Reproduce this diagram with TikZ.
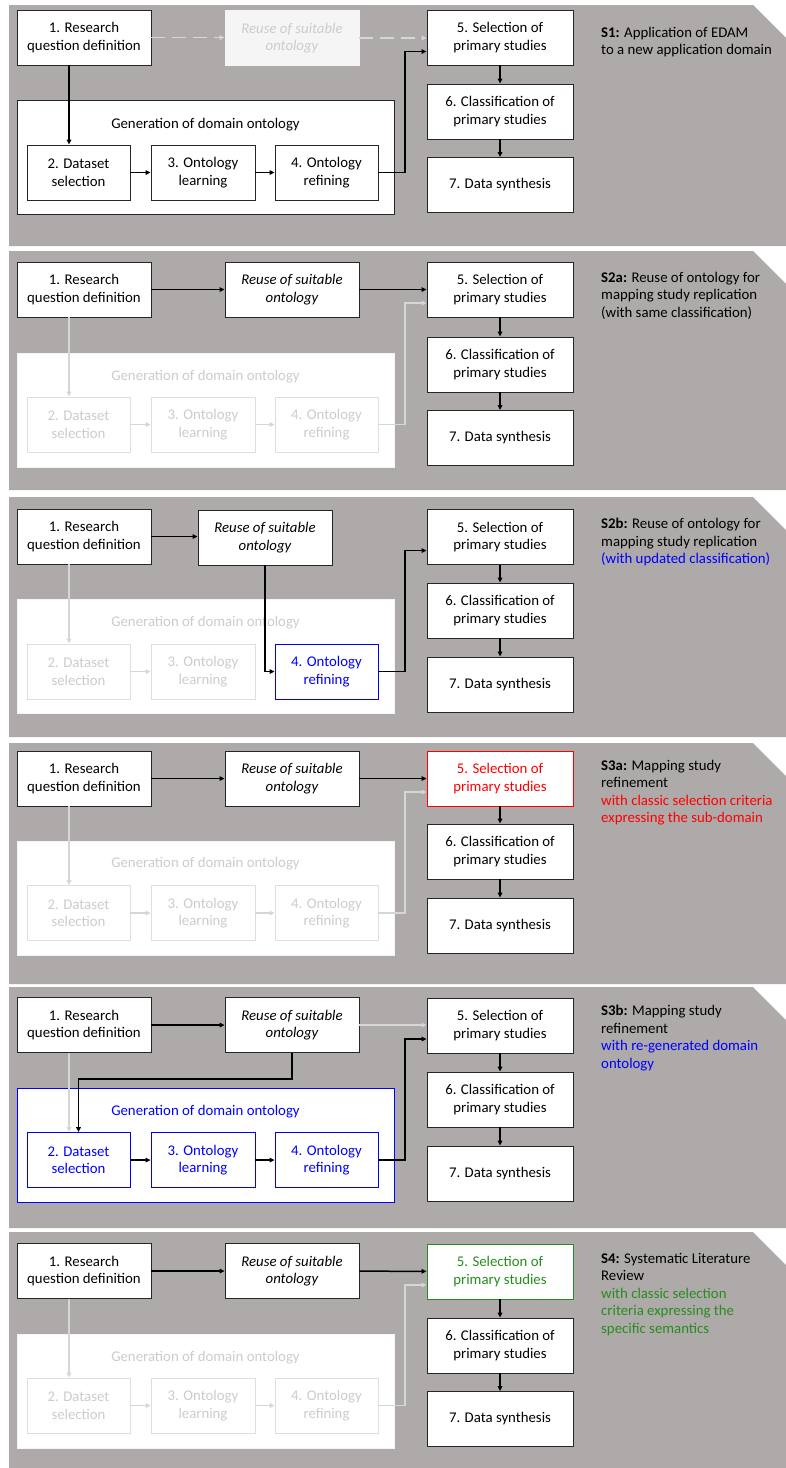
\documentclass[tikz,border=0pt]{standalone}
\usepackage{fontspec}
\setmainfont{Carlito}
\usetikzlibrary{arrows.meta}
\definecolor{panelgray}{RGB}{174,170,169}
\definecolor{fadeline}{RGB}{214,214,214}
\definecolor{fadetext}{RGB}{204,204,204}
\definecolor{fadeborder}{RGB}{222,222,222}
\definecolor{fadefill}{RGB}{245,245,245}
\definecolor{myblue}{RGB}{0,0,255}
\definecolor{myred}{RGB}{255,0,0}
\definecolor{mygreen}{RGB}{40,140,30}
\newcommand\fs{\fontsize{14.8}{17.5}\selectfont}
\newcommand\panelbg[2]{\fill[panelgray] (9,#1) -- (753,#1) -- (786,#1+33) -- (786,#2) -- (9,#2) -- cycle;}
\begin{document}
\begin{tikzpicture}[x=1pt,y=-1pt,
  bx/.style={draw=black!85, line width=0.8pt, fill=white, align=center, inner sep=0pt, minimum height=55pt, font=\fs},
  ital/.style={font=\fs\itshape},
  wA/.style={minimum width=134pt},
  wB/.style={minimum width=103pt},
  wC/.style={minimum width=104pt},
  wD/.style={minimum width=146pt},
  fade/.style={draw=fadeborder, text=fadetext},
  fadeR/.style={draw=fadefill, fill=fadefill, text=fadetext},
  blu/.style={draw=myblue, text=myblue},
  rd/.style={draw=myred, text=myred},
  grn/.style={draw=mygreen, text=mygreen},
  gen/.style={draw=black!85, line width=0.8pt, fill=white, minimum width=377pt, minimum height=114pt, inner sep=0pt},
  genf/.style={gen, draw=fadefill},
  genb/.style={gen, draw=myblue},
  glab/.style={font=\fs, inner sep=0pt},
  desc/.style={anchor=north west, align=left, inner sep=0pt, font=\fs},
  arr/.style={-{Triangle[length=5pt,width=4.5pt]}, line width=1.5pt, black},
  farr/.style={-{Triangle[length=5pt,width=4.5pt]}, line width=1.3pt, fadeline},
  dsh/.style={dash pattern=on 14pt off 7pt}
]
\useasboundingbox (0,0) rectangle (786,1468);
\fill[white] (0,0) rectangle (786,1468);

% ================= Panel 1 =================
\panelbg{5}{246}
\node[gen] (g1) at (205.5,157) {};
\node[glab] (g1l) at (205.5,125) {Generation of domain ontology};
\node[bx,wA] (a1) at (84,37.5) {1. Research\\question definition};
\node[bx,wA,ital,fadeR] (r1) at (292,38) {Reuse of suitable\\ontology};
\node[bx,wB] (b1) at (78.5,172.5) {2. Dataset\\selection};
\node[bx,wC] (c1) at (203,172.5) {3. Ontology\\learning};
\node[bx,wB] (d1) at (326.5,172.5) {4. Ontology\\refining};
\node[bx,wD] (e1) at (500,37.5) {5. Selection of\\primary studies};
\node[bx,wD] (f1) at (500,111.5) {6. Classification of\\primary studies};
\node[bx,wD] (h1) at (500,185) {7. Data synthesis};
\node[desc] (t1) at (601,27) {\textbf{S1:} Application of EDAM\\to a new application domain};
\coordinate (k1) at (405,51.5);
\coordinate (v1) at (69,0);
\draw[farr,dsh] (a1.east) -- (a1.east -| r1.west);
\draw[farr,dsh] (r1.east) -- (r1.east -| e1.west);
\draw[arr] (a1.south -| v1) -- (b1.north -| v1);
\draw[arr] (b1) -- (c1);
\draw[arr] (c1) -- (d1);
\draw[arr] (d1.east) -| (k1) -- (k1 -| e1.west);
\draw[arr] (e1) -- (f1);
\draw[arr] (f1) -- (h1);

% ================= Panel 2 =================
\panelbg{251}{490}
\node[genf] (g2) at (205.5,410) {};
\node[glab,text=fadetext] (g2l) at (205.5,377) {Generation of domain ontology};
\node[bx,wA] (a2) at (84,289.5) {1. Research\\question definition};
\node[bx,wA,ital] (r2) at (292,289.5) {Reuse of suitable\\ontology};
\node[bx,wB,fade] (b2) at (78.5,424.5) {2. Dataset\\selection};
\node[bx,wC,fade] (c2) at (203,424.5) {3. Ontology\\learning};
\node[bx,wB,fade] (d2) at (326.5,424.5) {4. Ontology\\refining};
\node[bx,wD] (e2) at (500,289.5) {5. Selection of\\primary studies};
\node[bx,wD] (f2) at (500,364.5) {6. Classification of\\primary studies};
\node[bx,wD] (h2) at (500,438) {7. Data synthesis};
\node[desc] (t2) at (601,272) {\textbf{S2a:} Reuse of ontology for\\mapping study replication\\(with same classification)};
\coordinate (k2) at (405,303);
\coordinate (v2) at (69,0);
\draw[farr] (a2.south -| v2) -- (b2.north -| v2);
\draw[farr] (b2) -- (c2);
\draw[farr] (c2) -- (d2);
\draw[farr] (d2.east) -| (k2) -- (k2 -| e2.west);
\draw[arr] (a2) -- (r2);
\draw[arr] (r2) -- (e2);
\draw[arr] (e2) -- (f2);
\draw[arr] (f2) -- (h2);

% ================= Panel 3 =================
\panelbg{497}{737}
\node[genf] (g3) at (205.5,656.5) {};
\node[glab,text=fadetext] (g3l) at (205.5,623) {Generation of domain ontology};
\node[bx,wA] (a3) at (84,536.5) {1. Research\\question definition};
\node[bx,wA,ital] (r3) at (265,537.5) {Reuse of suitable\\ontology};
\node[bx,wB,fade] (b3) at (78.5,671.5) {2. Dataset\\selection};
\node[bx,wC,fade] (c3) at (203,671.5) {3. Ontology\\learning};
\node[bx,wB,blu] (d3) at (326.5,671.5) {4. Ontology\\refining};
\node[bx,wD] (e3) at (500,537) {5. Selection of\\primary studies};
\node[bx,wD] (f3) at (500,610.5) {6. Classification of\\primary studies};
\node[bx,wD] (h3) at (500,684.5) {7. Data synthesis};
\node[desc] (t3) at (601,518) {\textbf{S2b:} Reuse of ontology for\\mapping study replication\\\textcolor{myblue}{(with updated classification)}};
\coordinate (k3) at (405,550.5);
\coordinate (v3) at (69,0);
\draw[farr] (a3.south -| v3) -- (b3.north -| v3);
\draw[farr] (b3) -- (c3);
\draw[arr] (a3.east) -- (a3.east -| r3.west);
\draw[arr] (r3.south) |- (d3.west);
\draw[arr] (d3.east) -| (k3) -- (k3 -| e3.west);
\draw[arr] (e3) -- (f3);
\draw[arr] (f3) -- (h3);

% ================= Panel 4 =================
\panelbg{743}{984}
\node[genf] (g4) at (205.5,898) {};
\node[glab,text=fadetext] (g4l) at (205.5,864) {Generation of domain ontology};
\node[bx,wA] (a4) at (84,778.5) {1. Research\\question definition};
\node[bx,wA,ital] (r4) at (292,778.5) {Reuse of suitable\\ontology};
\node[bx,wB,fade] (b4) at (78.5,913) {2. Dataset\\selection};
\node[bx,wC,fade] (c4) at (203,913) {3. Ontology\\learning};
\node[bx,wB,fade] (d4) at (326.5,913) {4. Ontology\\refining};
\node[bx,wD,rd] (e4) at (500,778.5) {5. Selection of\\primary studies};
\node[bx,wD] (f4) at (500,851.5) {6. Classification of\\primary studies};
\node[bx,wD] (h4) at (500,925.5) {7. Data synthesis};
\node[desc] (t4) at (601,760) {\textbf{S3a:} Mapping study\\refinement\\\textcolor{myred}{with classic selection criteria}\\\textcolor{myred}{expressing the sub-domain}};
\coordinate (k4) at (405,792);
\coordinate (v4) at (69,0);
\draw[farr] (a4.south -| v4) -- (b4.north -| v4);
\draw[farr] (b4) -- (c4);
\draw[farr] (c4) -- (d4);
\draw[farr] (d4.east) -| (k4) -- (k4 -| e4.west);
\draw[arr] (a4) -- (r4);
\draw[arr] (r4) -- (e4);
\draw[arr] (e4) -- (f4);
\draw[arr] (f4) -- (h4);

% ================= Panel 5 =================
\panelbg{987}{1228}
\node[genb] (g5) at (205.5,1145) {};
\node[glab,text=myblue] (g5l) at (205.5,1112) {Generation of domain ontology};
\node[bx,wA] (a5) at (84,1025) {1. Research\\question definition};
\node[bx,wA,ital] (r5) at (292,1025) {Reuse of suitable\\ontology};
\node[bx,wB,blu] (b5) at (78.5,1160) {2. Dataset\\selection};
\node[bx,wC,blu] (c5) at (203,1160) {3. Ontology\\learning};
\node[bx,wB,blu] (d5) at (326.5,1160) {4. Ontology\\refining};
\node[bx,wD] (e5) at (500,1025.5) {5. Selection of\\primary studies};
\node[bx,wD] (f5) at (500,1099.5) {6. Classification of\\primary studies};
\node[bx,wD] (h5) at (500,1173.5) {7. Data synthesis};
\node[desc] (t5) at (601,1005) {\textbf{S3b:} Mapping study\\refinement\\\textcolor{myblue}{with re-generated domain}\\\textcolor{myblue}{ontology}};
\coordinate (k5) at (405,1039);
\coordinate (v5) at (69,0);
\coordinate (m5) at (0,1079);
\draw[farr] (a5.south -| v5) -- (b5.north -| v5);
\draw[farr] (r5.east) -- (r5.east -| e5.west);
\draw[arr] (a5) -- (r5);
\draw[arr] (r5.south) -- (r5.south |- m5) -| (b5.north);
\draw[arr] (b5) -- (c5);
\draw[arr] (c5) -- (d5);
\draw[arr] (d5.east) -| (k5) -- (k5 -| e5.west);
\draw[arr] (e5) -- (f5);
\draw[arr] (f5) -- (h5);

% ================= Panel 6 =================
\panelbg{1232}{1468}
\node[genf] (g6) at (205.5,1391) {};
\node[glab,text=fadetext] (g6l) at (205.5,1358) {Generation of domain ontology};
\node[bx,wA] (a6) at (84,1271) {1. Research\\question definition};
\node[bx,wA,ital] (r6) at (292,1271) {Reuse of suitable\\ontology};
\node[bx,wB,fade] (b6) at (78.5,1405.5) {2. Dataset\\selection};
\node[bx,wC,fade] (c6) at (203,1405.5) {3. Ontology\\learning};
\node[bx,wB,fade] (d6) at (326.5,1405.5) {4. Ontology\\refining};
\node[bx,wD,grn] (e6) at (500,1271.5) {5. Selection of\\primary studies};
\node[bx,wD] (f6) at (500,1345.5) {6. Classification of\\primary studies};
\node[bx,wD] (h6) at (500,1419) {7. Data synthesis};
\node[desc] (t6) at (601,1253) {\textbf{S4:} Systematic Literature\\Review\\\textcolor{mygreen}{with classic selection}\\\textcolor{mygreen}{criteria expressing the}\\\textcolor{mygreen}{specific semantics}};
\coordinate (k6) at (405,1285);
\coordinate (v6) at (69,0);
\draw[farr] (a6.south -| v6) -- (b6.north -| v6);
\draw[farr] (b6) -- (c6);
\draw[farr] (c6) -- (d6);
\draw[farr] (d6.east) -| (k6) -- (k6 -| e6.west);
\draw[arr] (a6) -- (r6);
\draw[arr] (r6) -- (e6);
\draw[arr] (e6) -- (f6);
\draw[arr] (f6) -- (h6);
\end{tikzpicture}
\end{document}
